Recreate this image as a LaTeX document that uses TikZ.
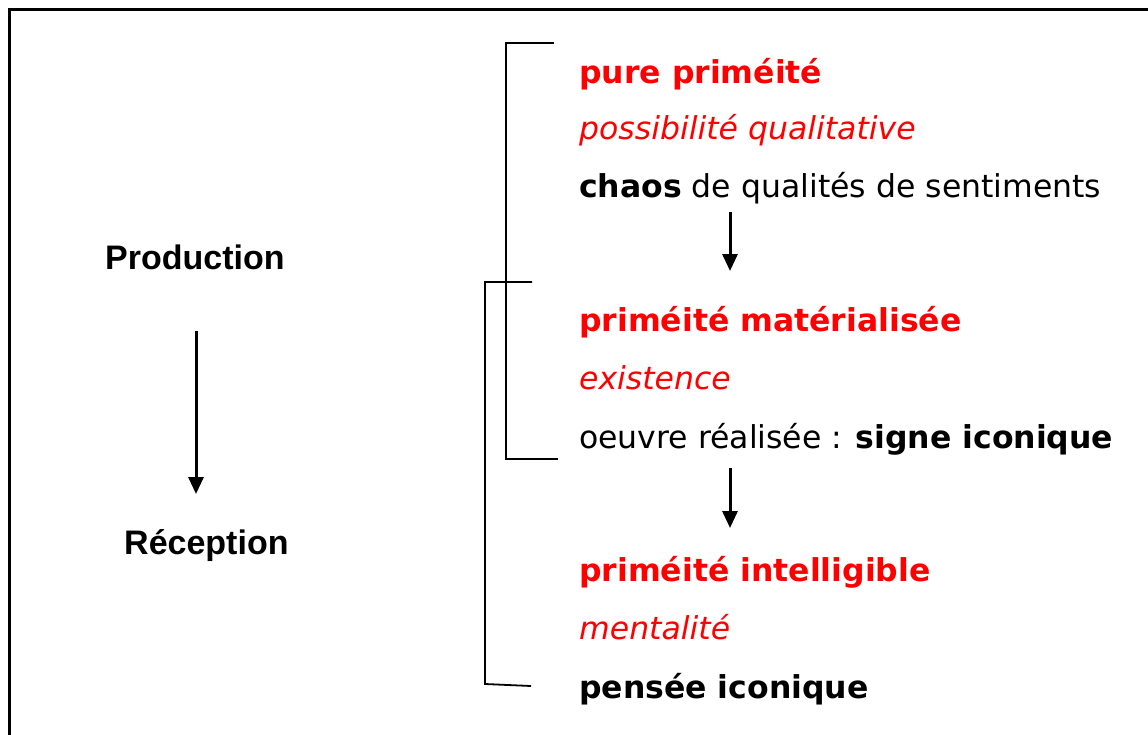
\documentclass[tikz,border=0pt]{standalone}
\usepackage{fontspec}
\setmainfont{DejaVu Sans}
\newfontfamily\labelfont{Liberation Sans}
\usetikzlibrary{arrows.meta}
\definecolor{accent}{RGB}{255,0,0}
\begin{document}
\begin{tikzpicture}[x=1pt,y=-1pt,
  txt/.style={inner sep=0pt,anchor=mid west,font=\fontsize{31.5}{34}\selectfont},
  head/.style={txt,text=accent,font=\fontsize{31.5}{34}\selectfont\bfseries},
  sub/.style={txt,text=accent,font=\fontsize{31.5}{34}\selectfont\itshape},
  side/.style={inner sep=0pt,anchor=mid west,font=\labelfont\fontsize{34}{36}\selectfont\bfseries},
  flow/.style={line width=3pt,-{Triangle[width=15pt,length=17pt]}},
  brace/.style={line width=1.8pt}]
\useasboundingbox (0,0) rectangle (1148,734);
% outer frame, running past the right and bottom edges
\draw[line width=3pt] (9.5,9.5) rectangle (1160,760);

% left column
\node[side] (prod) at (105,267) {Production};
\node[side] (rec) at (124,552) {Réception};
\coordinate (la) at (196,331);
\coordinate (lb) at (196,494);
\draw[flow] (la) -- (lb);

% right column
\node[head] (p1) at (579,81) {pure priméité};
\node[sub]  (s1) at (579,137) {possibilité qualitative};
\node[txt]  (t1) at (579,195) {\textbf{chaos} de qualités de sentiments};
\node[head] (p2) at (579,329) {priméité matérialisée};
\node[sub]  (s2) at (579,387) {existence};
\node[txt]  (t2) at (579,446) {oeuvre réalisée : \textbf{signe iconique}};
\node[head] (p3) at (579,579) {priméité intelligible};
\node[sub]  (s3) at (579,637) {mentalité};
\node[txt,font=\fontsize{31.5}{34}\selectfont\bfseries] (t3) at (579,696) {pensée iconique};

\coordinate (a1) at (730,212);
\coordinate (b1) at (730,271);
\coordinate (a2) at (730,468);
\coordinate (b2) at (730,528);
\draw[flow] (a1) -- (b1);
\draw[flow] (a2) -- (b2);

% brackets grouping the levels
\coordinate (k1a) at (554,43);
\coordinate (k1b) at (558,459);
\coordinate (k2a) at (532,282);
\coordinate (k2b) at (531,686);
\draw[brace] (k1a) -- (506,43) -- (506,459) -- (k1b);
\draw[brace] (k2a) -- (485,282) -- (485,684) -- (k2b);
\end{tikzpicture}
\end{document}
